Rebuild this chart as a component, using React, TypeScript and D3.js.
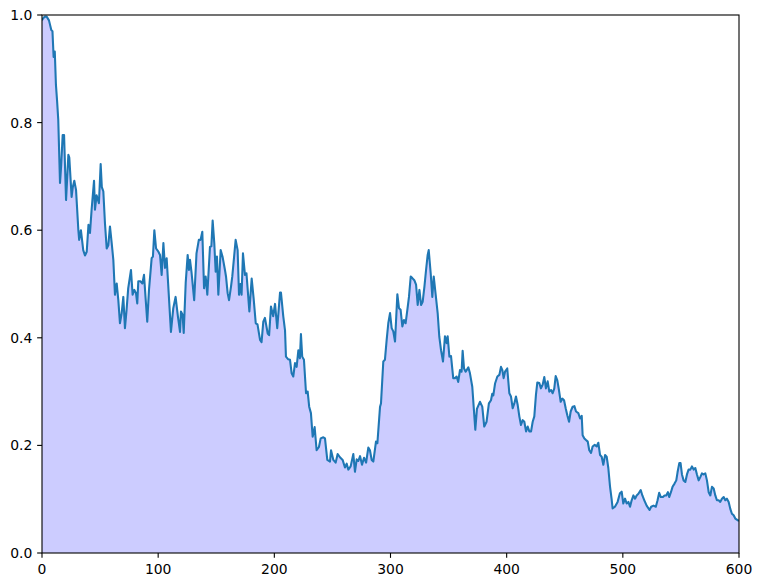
import * as d3 from 'd3';

// sample positions (x) and values (y)
const xs = [
  0, 1, 2.5, 4, 6, 8, 9, 10, 11, 12, 13, 14, 15.5, 16.5, 17.8, 19, 20.7, 22.7, 23.5, 25.5,
  26.5, 27.8, 29.3, 31.3, 32, 33.5, 35.5, 37, 38.5, 40, 41.3, 42.7, 44.8, 45.6, 47, 49, 50.5, 51.5, 52.8, 54.2,
  55.7, 57.1, 58.5, 60, 61.4, 62.8, 64.3, 65.7, 67.1, 68.6, 70, 71.4, 72.8, 74.2, 76.6, 78, 79.5, 80.9, 82, 82.9,
  84.7, 86.4, 87.8, 89.3, 90.6, 92.1, 94.4, 95.5, 96.7, 98.2, 100.2, 101.6, 103, 104.5, 105.9, 107.3, 111, 113, 115, 117,
  118.8, 119.6, 121, 122, 123.7, 125.4, 126.5, 127.4, 128.8, 131, 133, 135, 136.5, 138, 139.5, 140.9, 142.3, 144.6, 145.8, 146.9,
  148.3, 149.5, 150.6, 151.8, 153.8, 155.5, 157.5, 158.4, 159.8, 161, 162.7, 163.8, 166.7, 168.4, 169.6, 170.8, 171.8, 173, 174.7, 176,
  178.5, 180.5, 182.2, 184, 185.5, 187.7, 189, 190.5, 191.9, 194.3, 195.5, 197.1, 199, 200.6, 202.5, 204.9, 205.7, 207.7, 209.2, 210,
  212, 213.5, 214.9, 216.3, 217.8, 219.2, 220.7, 222, 222.9, 224, 225.5, 227.3, 228.7, 230, 231.5, 233, 234.7, 236.4, 238.4, 239.9,
  242.2, 243.6, 245.6, 247.9, 248.8, 250.8, 252.8, 254.5, 256.5, 258.8, 260.8, 262.3, 263.7, 265.7, 268, 269.4, 270.9, 272.3, 273.8, 275.5,
  277.2, 279, 280.9, 282.3, 283.8, 285.2, 287.5, 288.7, 291, 291.8, 293.8, 295.2, 296.7, 298.1, 299.6, 301, 302.4, 303.9, 305.9, 307.3,
  308.7, 310.2, 311.6, 313, 314.5, 315.9, 317.4, 318.8, 320.5, 322, 323.4, 324.9, 326.3, 327.7, 329.2, 330.6, 332, 332.9, 334.6, 336,
  337.2, 338.9, 340.6, 342, 343.5, 345.2, 346.9, 348.4, 349.2, 350.7, 352.1, 354, 355.5, 356.9, 358.3, 359.8, 361.2, 362.1, 363.3, 364.7,
  367, 368.4, 370.4, 371.6, 373, 374.4, 377, 379, 380.7, 382.7, 384.7, 386.5, 387.6, 388.5, 390, 392, 393.7, 395.1, 396.3, 397.4,
  398.6, 400.5, 402.3, 403.7, 405.2, 406.6, 408, 409.5, 410.9, 412.3, 413.8, 415.2, 416.7, 418.1, 419.5, 421, 422.4, 423.8, 425.2, 426.4,
  428.1, 429.5, 431, 432.4, 433.8, 435.3, 436.7, 438.2, 439.6, 441, 442.2, 443.6, 445, 446.5, 447.9, 449.4, 450.8, 452.2, 453.7, 455.1,
  456.8, 458.3, 459.7, 461.7, 463.2, 464.6, 465.4, 466.9, 468.3, 469.8, 471.1, 472.6, 474, 475.8, 477.5, 478.9, 480.4, 481.8, 483.2, 484.7,
  486.1, 487.5, 489, 490.4, 491.2, 493.2, 495.5, 497.5, 499, 500.4, 501.9, 503.3, 504.8, 506.2, 507.6, 509.1, 510.5, 511.9, 513.4, 515.4,
  516.8, 518.5, 520.5, 523, 524.4, 526.4, 528.4, 529.9, 531.3, 532.7, 534.5, 535.9, 537.3, 538.8, 539.9, 541.4, 542.8, 544.5, 546, 547.1,
  548.6, 549.7, 550.9, 552.3, 553.8, 555.2, 556.6, 558.1, 559.5, 561, 562.4, 563.8, 565.3, 566.7, 568.1, 569.5, 571, 572.4, 573.9, 575.3,
  576.7, 578.2, 579.6, 581, 582.5, 583.9, 585.3, 586.8, 588.2, 589.6, 591.1, 592.5, 593.9, 595.4, 596.8, 598.8, 600,
];

const ys = [
  0.99, 0.994, 0.997, 0.997, 0.99, 0.972, 0.97, 0.922, 0.932, 0.87, 0.84, 0.805, 0.688, 0.72, 0.777, 0.777, 0.656, 0.74, 0.735, 0.662,
  0.68, 0.692, 0.675, 0.6, 0.582, 0.6, 0.563, 0.553, 0.56, 0.61, 0.595, 0.638, 0.692, 0.638, 0.665, 0.65, 0.723, 0.68, 0.672, 0.613,
  0.566, 0.572, 0.607, 0.576, 0.545, 0.48, 0.501, 0.47, 0.427, 0.446, 0.476, 0.418, 0.452, 0.492, 0.526, 0.48, 0.489, 0.483, 0.464, 0.505,
  0.505, 0.501, 0.517, 0.47, 0.43, 0.489, 0.548, 0.551, 0.6, 0.566, 0.56, 0.554, 0.517, 0.576, 0.53, 0.548, 0.411, 0.455, 0.476, 0.44,
  0.411, 0.449, 0.443, 0.409, 0.502, 0.554, 0.526, 0.545, 0.52, 0.47, 0.557, 0.582, 0.582, 0.597, 0.492, 0.514, 0.48, 0.569, 0.57, 0.618,
  0.576, 0.523, 0.551, 0.48, 0.563, 0.55, 0.526, 0.514, 0.483, 0.47, 0.495, 0.514, 0.582, 0.563, 0.48, 0.5, 0.48, 0.557, 0.517, 0.52,
  0.449, 0.51, 0.473, 0.427, 0.425, 0.396, 0.392, 0.43, 0.437, 0.408, 0.405, 0.458, 0.44, 0.463, 0.418, 0.484, 0.484, 0.44, 0.414, 0.365,
  0.36, 0.359, 0.334, 0.328, 0.353, 0.346, 0.377, 0.362, 0.407, 0.365, 0.359, 0.297, 0.3, 0.272, 0.26, 0.216, 0.234, 0.191, 0.197, 0.213,
  0.215, 0.213, 0.173, 0.17, 0.191, 0.173, 0.168, 0.184, 0.178, 0.173, 0.159, 0.166, 0.155, 0.161, 0.184, 0.151, 0.174, 0.171, 0.18, 0.164,
  0.177, 0.168, 0.196, 0.191, 0.173, 0.17, 0.207, 0.204, 0.272, 0.278, 0.356, 0.359, 0.396, 0.427, 0.446, 0.418, 0.412, 0.393, 0.481, 0.455,
  0.452, 0.421, 0.433, 0.427, 0.452, 0.476, 0.514, 0.511, 0.507, 0.499, 0.461, 0.489, 0.461, 0.467, 0.495, 0.526, 0.554, 0.563, 0.52, 0.476,
  0.514, 0.48, 0.446, 0.402, 0.377, 0.356, 0.403, 0.39, 0.403, 0.365, 0.366, 0.325, 0.325, 0.328, 0.318, 0.34, 0.337, 0.376, 0.343, 0.337,
  0.345, 0.334, 0.309, 0.272, 0.229, 0.268, 0.281, 0.272, 0.235, 0.244, 0.278, 0.284, 0.296, 0.293, 0.315, 0.328, 0.331, 0.346, 0.34, 0.325,
  0.337, 0.343, 0.297, 0.291, 0.269, 0.278, 0.291, 0.275, 0.254, 0.238, 0.247, 0.244, 0.226, 0.235, 0.226, 0.226, 0.244, 0.254, 0.294, 0.317,
  0.316, 0.306, 0.313, 0.327, 0.306, 0.319, 0.3, 0.303, 0.297, 0.306, 0.329, 0.321, 0.303, 0.281, 0.287, 0.284, 0.269, 0.256, 0.244, 0.263,
  0.272, 0.273, 0.263, 0.26, 0.25, 0.255, 0.219, 0.213, 0.21, 0.207, 0.191, 0.186, 0.198, 0.201, 0.198, 0.205, 0.182, 0.179, 0.164, 0.182,
  0.179, 0.158, 0.123, 0.099, 0.083, 0.086, 0.095, 0.111, 0.114, 0.092, 0.101, 0.092, 0.095, 0.086, 0.098, 0.107, 0.101, 0.107, 0.11, 0.117,
  0.107, 0.098, 0.088, 0.08, 0.086, 0.088, 0.086, 0.098, 0.112, 0.104, 0.104, 0.107, 0.107, 0.113, 0.104, 0.113, 0.123, 0.129, 0.135, 0.15,
  0.167, 0.167, 0.146, 0.135, 0.132, 0.146, 0.155, 0.155, 0.161, 0.155, 0.158, 0.146, 0.135, 0.141, 0.148, 0.146, 0.148, 0.135, 0.113, 0.107,
  0.123, 0.12, 0.107, 0.098, 0.098, 0.095, 0.101, 0.104, 0.098, 0.101, 0.095, 0.082, 0.073, 0.07, 0.064, 0.061, 0.06,
];

const xTicks = [0, 100, 200, 300, 400, 500, 600];
const yTicks = [0, 0.2, 0.4, 0.6, 0.8, 1.0];

const W = 762;
const H = 588;
const margin = { top: 15, right: 23, bottom: 35, left: 42 };

export default function App() {
  const innerW = W - margin.left - margin.right;
  const innerH = H - margin.top - margin.bottom;

  const x = d3.scaleLinear().domain([0, 600]).range([0, innerW]);
  const y = d3.scaleLinear().domain([0, 1]).range([innerH, 0]);

  const points: [number, number][] = xs.map((v, i) => [v, ys[i]]);

  const area = d3.area<[number, number]>()
    .x(d => x(d[0]))
    .y0(y(0))
    .y1(d => y(d[1]));

  const line = d3.line<[number, number]>()
    .x(d => x(d[0]))
    .y(d => y(d[1]));

  const font = { fontFamily: 'DejaVu Sans', fontSize: 13.9 };
  const tickLen = 4.86;

  return (
    <svg width={W} height={H} style={{ position: 'absolute', left: 0, top: 0, background: '#fff' }}>
      <defs>
        <clipPath id="plot-clip">
          <rect x={0} y={0} width={innerW} height={innerH} />
        </clipPath>
      </defs>
      <g transform={`translate(${margin.left},${margin.top})`}>
        <g clipPath="url(#plot-clip)">
          <path d={area(points) ?? ''} fill="#ccccff" stroke="none" />
          <path
            d={line(points) ?? ''}
            fill="none"
            stroke="#1f77b4"
            strokeWidth={2.08}
            strokeLinejoin="round"
          />
        </g>

        {/* spines */}
        <rect x={0} y={0} width={innerW} height={innerH} fill="none" stroke="#000" strokeWidth={1.1} />

        {/* x axis */}
        {xTicks.map(t => (
          <g key={`x${t}`} transform={`translate(${x(t)},${innerH})`}>
            <line y1={0} y2={tickLen} stroke="#000" strokeWidth={1.1} />
            <text y={20.5} textAnchor="middle" fill="#000" style={font}>{t}</text>
          </g>
        ))}

        {/* y axis */}
        {yTicks.map(t => (
          <g key={`y${t}`} transform={`translate(0,${y(t)})`}>
            <line x1={0} x2={-tickLen} stroke="#000" strokeWidth={1.1} />
            <text x={-9.7} dy="0.36em" textAnchor="end" fill="#000" style={font}>{t.toFixed(1)}</text>
          </g>
        ))}
      </g>
    </svg>
  );
}
